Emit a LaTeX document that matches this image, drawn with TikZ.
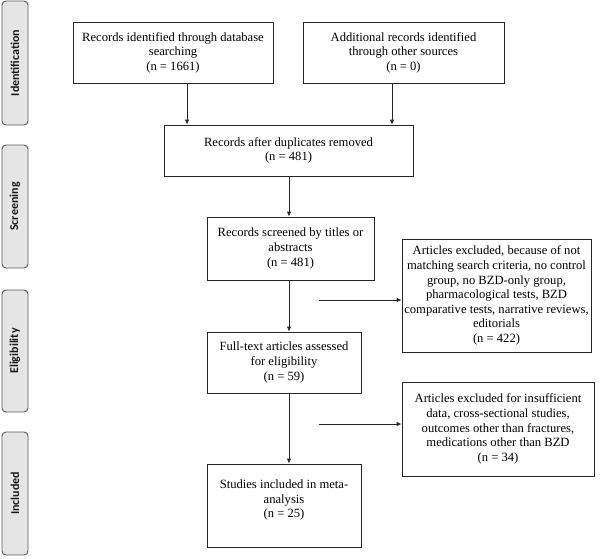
\documentclass[tikz,border=0pt]{standalone}
\usepackage{fontspec}
\setmainfont{Liberation Serif}
\newfontfamily\sidefont{Carlito}
\usetikzlibrary{arrows.meta}
\begin{document}
\begin{tikzpicture}[x=1pt,y=-1pt,
  box/.style={draw=black!85, line width=0.8pt, align=center,
    font=\fontsize{12.6}{14.6}\selectfont, inner sep=0pt},
  side/.style={draw=black!65, fill=black!10, line width=0.9pt,
    rounded corners=4pt, inner sep=0pt, rotate=90, minimum height=26pt,
    font=\sidefont\bfseries\fontsize{12}{14}\selectfont, text=black!90},
  arr/.style={-{Latex[length=5pt,width=4.5pt]}, line width=0.8pt, draw=black!85}]
\useasboundingbox (0,0) rectangle (609,558);

% phase labels
\node[side, minimum width=124pt] (s1) at (15,63) {Identification};
\node[side, minimum width=123pt] (s2) at (15,206.5) {Screening};
\node[side, minimum width=122pt] (s3) at (15,351) {Eligibility};
\node[side, minimum width=123pt] (s4) at (15,493.5) {Included};

% boxes
\node[box, minimum width=200pt, minimum height=61pt] (b1) at (173,52.5)
  {Records identified through database\\searching\\(n = 1661)};
\node[box, minimum width=201pt, minimum height=61pt] (b2) at (403.5,52.5)
  {Additional records identified\\through other sources\\(n = 0)};
\node[box, minimum width=249pt, minimum height=51pt] (b3) at (288.5,150.5)
  {Records after duplicates removed\\(n = 481)};
\node[box, minimum width=167pt, minimum height=63pt] (b4) at (290.5,248.5)
  {Records screened by titles or\\abstracts\\(n = 481)};
\node[box, minimum width=154pt, minimum height=61pt] (b5) at (284,362.5)
  {Full-text articles assessed\\for eligibility\\(n = 59)};
\node[box, minimum width=154pt, minimum height=83pt] (b6) at (284,505.5)
  {Studies included in meta-\\analysis\\(n = 25)\\[-1pt]\mbox{}};
\node[box, minimum width=189pt, minimum height=113pt] (e1) at (496.5,295.5)
  {Articles excluded, because of not\\matching search criteria, no control\\group, no BZD-only group,\\pharmacological tests, BZD\\comparative tests, narrative reviews,\\editorials\\(n = 422)};
\node[box, minimum width=192pt, minimum height=94pt] (e2) at (498,429)
  {Articles excluded for insufficient\\data, cross-sectional studies,\\outcomes other than fractures,\\medications other than BZD\\(n = 34)};

% connectors
\coordinate (c1) at (187,0);
\coordinate (c2) at (392,0);
\coordinate (c3) at (289,0);
\coordinate (h1) at (319,300);
\coordinate (h2) at (319,424);
\draw[arr] (c1 |- b1.south) -- (c1 |- b3.north);
\draw[arr] (c2 |- b2.south) -- (c2 |- b3.north);
\draw[arr] (c3 |- b3.south) -- (c3 |- b4.north);
\draw[arr] (c3 |- b4.south) -- (c3 |- b5.north);
\draw[arr] (c3 |- b5.south) -- (c3 |- b6.north);
\draw[arr] (h1) -- (h1 -| e1.west);
\draw[arr] (h2) -- (h2 -| e2.west);
\end{tikzpicture}
\end{document}
